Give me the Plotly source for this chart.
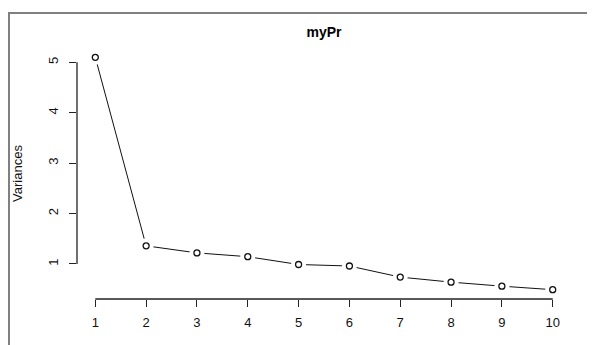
import plotly.graph_objects as go

components = [1, 2, 3, 4, 5, 6, 7, 8, 9, 10]
variances = [5.10, 1.36, 1.22, 1.145, 0.99, 0.96, 0.74, 0.64, 0.56, 0.49]
x_ticks = [1, 2, 3, 4, 5, 6, 7, 8, 9, 10]
y_ticks = [1, 2, 3, 4, 5]
title_text = "myPr"
y_title = "Variances"

# page body has an 8px margin, so the figure is drawn 8px smaller and offset
OFF = 8
W, H = 595 - OFF, 345 - OFF
ML, MR, MT, MB = 77 - OFF, 24, 48 - OFF, 46
PW, PH = W - ML - MR, H - MT - MB

def px_to_paper_x(px):
    return (px - OFF - ML) / PW

def px_to_paper_y(py):
    return (H - MB - (py - OFF)) / PH

xr = (max(components) - min(components)) * 0.04
yr = (max(variances) - min(variances)) * 0.04
FONT = "Liberation Sans, Arial, sans-serif"

fig = go.Figure()
fig.add_trace(go.Scatter(x=components, y=variances, mode="lines",
                         line=dict(color="#111111", width=1), hoverinfo="skip"))
# white disks give the R type="b" gaps around each point
fig.add_trace(go.Scatter(x=components, y=variances, mode="markers",
                         marker=dict(size=15, color="white", line=dict(width=0)), hoverinfo="skip"))
fig.add_trace(go.Scatter(x=components, y=variances, mode="markers",
                         marker=dict(symbol="circle-open", size=6, color="#111111",
                                     line=dict(width=1.3, color="#111111"))))

shapes = [
    dict(type="line", xref="x", yref="paper", x0=min(x_ticks), x1=max(x_ticks), y0=0, y1=0,
         line=dict(color="#222222", width=1.3)),
    dict(type="line", xref="paper", yref="y", x0=0, x1=0, y0=min(y_ticks), y1=max(y_ticks),
         line=dict(color="#222222", width=1.3)),
    # screenshot frame (top and left border)
    dict(type="line", xref="paper", yref="paper", x0=px_to_paper_x(8), x1=px_to_paper_x(600),
         y0=px_to_paper_y(13), y1=px_to_paper_y(13), line=dict(color="#808080", width=2)),
    dict(type="line", xref="paper", yref="paper", x0=px_to_paper_x(9), x1=px_to_paper_x(9),
         y0=px_to_paper_y(12), y1=px_to_paper_y(350), line=dict(color="#808080", width=2)),
]

fig.update_layout(
    width=W, height=H,
    margin=dict(l=ML, r=MR, t=MT, b=MB, pad=0, autoexpand=False),
    paper_bgcolor="white", plot_bgcolor="white",
    showlegend=False,
    font=dict(family=FONT, size=13, color="#111111"),
    title=dict(text="<b>" + title_text + "</b>", x=px_to_paper_x(324), xref="paper",
               y=1 - (32 - OFF) / H, yref="container", xanchor="center", yanchor="middle",
               font=dict(size=14, color="#000000"), automargin=False),
    shapes=shapes,
    xaxis=dict(range=[min(components) - xr, max(components) + xr], tickvals=x_ticks,
               ticktext=[str(v) for v in x_ticks], ticks="outside", ticklen=7,
               tickcolor="#222222", tickwidth=1.3, showgrid=False, zeroline=False,
               showline=False, fixedrange=True, ticklabelstandoff=4, automargin=False,
               tickfont=dict(size=13)),
    yaxis=dict(range=[min(variances) - yr, max(variances) + yr], tickvals=y_ticks,
               ticktext=[str(v) for v in y_ticks], ticks="outside", ticklen=7,
               tickcolor="#222222", tickwidth=1.3, tickangle=-90, showgrid=False,
               zeroline=False, showline=False, fixedrange=True, ticklabelstandoff=6,
               automargin=False, tickfont=dict(size=13),
               title=dict(text=y_title, standoff=20, font=dict(size=13))),
)

fig.write_html("out.html")
